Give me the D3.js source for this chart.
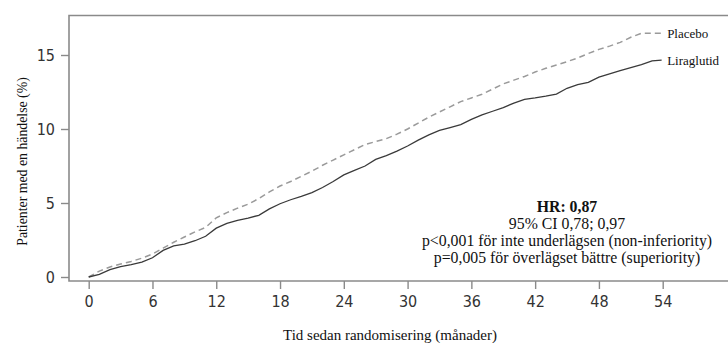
<!DOCTYPE html>
<html><head><meta charset="utf-8">
<script src="https://cdn.jsdelivr.net/npm/d3@7"></script>
<style>
html,body{margin:0;padding:0;background:#fff;}
svg{display:block;}
.tick text{font-family:"DejaVu Sans Condensed","DejaVu Sans",sans-serif;font-stretch:condensed;}
</style></head>
<body>
<svg id="chart" width="728" height="343"></svg>
<script>
// ---- data ----
const months = [0,1,2,3,4,5,6,7,8,9,10,11,12,13,14,15,16,17,18,19,20,21,22,23,24,25,26,27,28,29,30,31,32,33,34,35,36,37,38,39,40,41,42,43,44,45,46,47,48,49,50,51,52,53,53.9];
const liraglutid = [0,0.18,0.5,0.7,0.83,1.0,1.3,1.8,2.1,2.22,2.45,2.75,3.3,3.62,3.82,3.98,4.17,4.6,4.95,5.22,5.45,5.7,6.05,6.45,6.9,7.2,7.5,7.95,8.2,8.5,8.85,9.25,9.6,9.9,10.1,10.3,10.65,10.95,11.2,11.45,11.75,12.0,12.1,12.22,12.36,12.75,13.0,13.15,13.5,13.72,13.95,14.15,14.35,14.6,14.66];
const placebo = [0,0.4,0.68,0.88,1.05,1.27,1.55,1.95,2.35,2.7,3.05,3.35,4.0,4.35,4.65,4.92,5.3,5.75,6.15,6.45,6.8,7.15,7.55,7.9,8.25,8.6,8.95,9.15,9.35,9.65,10.0,10.4,10.8,11.15,11.5,11.85,12.1,12.35,12.7,13.05,13.3,13.55,13.85,14.1,14.32,14.55,14.8,15.1,15.38,15.6,15.85,16.2,16.47,16.47,16.47];
const xTicks = [0,6,12,18,24,30,36,42,48,54];
const yTicks = [0,5,10,15];
const seriesNames = ["Placebo","Liraglutid"];
const annotation = ["HR: 0,87","95% CI 0,78; 0,97","p<0,001 för inte underlägsen (non-inferiority)","p=0,005 för överlägset bättre (superiority)"];
const xTitle = "Tid sedan randomisering (månader)";
const yTitle = "Patienter med en händelse (%)";

// ---- layout ----
const svg = d3.select("#chart");
const frame = {left:69, top:15.5, bottom:281, right:728};
const x = d3.scaleLinear().domain([0,54]).range([88.7,662.7]);
const y = d3.scaleLinear().domain([0,15]).range([277,55]);
const axisColor = "#8a8a8a";
const serif = "'Liberation Serif','Times New Roman',serif";

// frame (left, top, bottom)
svg.append("path")
  .attr("d",`M${frame.right},${frame.top}H${frame.left}V${frame.bottom}H${frame.right}`)
  .attr("fill","none").attr("stroke",axisColor).attr("stroke-width",1.6);

// x axis
const gx = svg.append("g").attr("transform",`translate(0,${frame.bottom})`)
  .call(d3.axisBottom(x).tickValues(xTicks).tickSize(8).tickPadding(7).tickFormat(d3.format("d")));
gx.select(".domain").remove();
gx.selectAll(".tick line").attr("stroke",axisColor).attr("stroke-width",1.4);
gx.selectAll(".tick text").attr("fill","#333").attr("font-size",16);

// y axis
const gy = svg.append("g").attr("transform",`translate(${frame.left},0)`)
  .call(d3.axisLeft(y).tickValues(yTicks).tickSize(8).tickPadding(6).tickFormat(d3.format("d")));
gy.select(".domain").remove();
gy.selectAll(".tick line").attr("stroke",axisColor).attr("stroke-width",1.4);
gy.selectAll(".tick text").attr("fill","#333").attr("font-size",16);

// curves
const line = d3.line().x((d,i)=>x(months[i])).y(d=>y(d)).curve(d3.curveLinear);
svg.append("path").datum(placebo).attr("d",line)
  .attr("fill","none").attr("stroke","#9a9a9a").attr("stroke-width",1.5).attr("stroke-dasharray","6,4");
svg.append("path").datum(liraglutid).attr("d",line)
  .attr("fill","none").attr("stroke","#3a3a3a").attr("stroke-width",1.3);

// series labels
const ends = [placebo[placebo.length-1], liraglutid[liraglutid.length-1]];
svg.selectAll("text.lab").data(seriesNames).enter().append("text").attr("class","lab")
  .attr("x", x(months[months.length-1])+5.5)
  .attr("y",(d,i)=>y(ends[i])+4.5)
  .attr("font-family",serif).attr("font-size",13).attr("fill","#111")
  .text(d=>d);

// annotation
svg.selectAll("text.ann").data(annotation).enter().append("text").attr("class","ann")
  .attr("x",567).attr("y",(d,i)=>211.5+i*17)
  .attr("text-anchor","middle").attr("font-family",serif).attr("font-size",15.8)
  .attr("font-weight",(d,i)=>i===0?"bold":"normal").attr("fill","#111")
  .text(d=>d);

// axis titles
svg.append("text").attr("x",390).attr("y",340).attr("text-anchor","middle")
  .attr("font-family",serif).attr("font-size",15).attr("fill","#111").text(xTitle);
svg.append("text").attr("transform","translate(27,161.5) rotate(-90)").attr("text-anchor","middle")
  .attr("font-family",serif).attr("font-size",13.8).attr("fill","#111").text(yTitle);
</script>
</body></html>
